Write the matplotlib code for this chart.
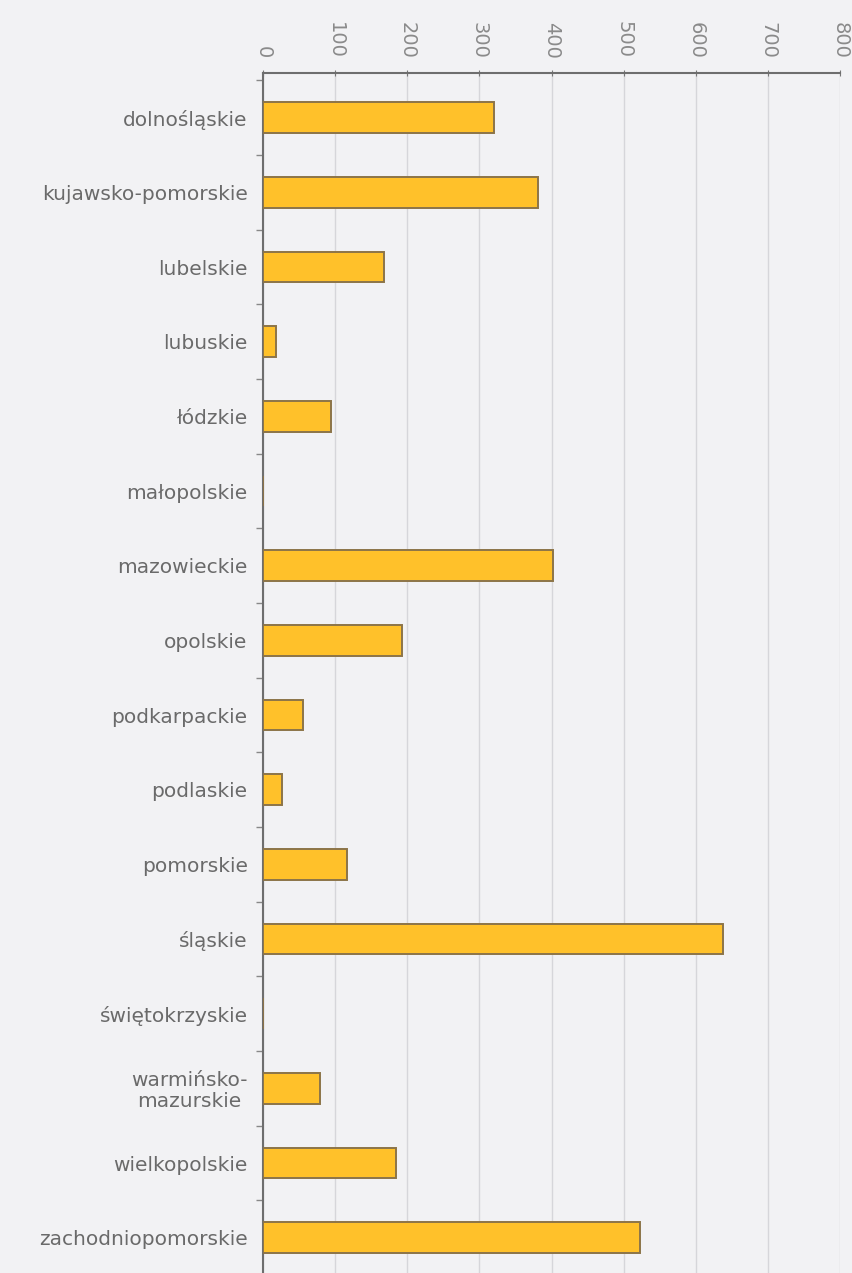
import matplotlib.pyplot as plt
from matplotlib.ticker import MultipleLocator

# województwa and values
regions = ['dolnośląskie', 'kujawsko-pomorskie', 'lubelskie', 'lubuskie',
           'łódzkie', 'małopolskie', 'mazowieckie', 'opolskie',
           'podkarpackie', 'podlaskie', 'pomorskie', 'śląskie',
           'świętokrzyskie', 'warmińsko-\nmazurskie', 'wielkopolskie',
           'zachodniopomorskie']
values = [320, 381, 168, 18, 94, 0, 402, 193, 55, 26, 117, 638, 0, 79, 184, 523]
x_ticks = [0, 100, 200, 300, 400, 500, 600, 700, 800]

bg = '#f2f2f4'
fig = plt.figure(figsize=(8.53, 12.73), dpi=100, facecolor=bg)
# axes runs slightly past the bottom edge, like the cropped original
ax = fig.add_axes([263 / 853, 1 - 1275 / 1273, 577 / 853, (1275 - 73) / 1273])
ax.set_facecolor(bg)

ypos = list(range(len(regions)))
ax.barh(ypos, values, height=0.41, color='#ffc12a', edgecolor='#8c7448',
        linewidth=1.4, zorder=3)

ax.set_xlim(0, 800)
ax.set_ylim(15.5, -0.6)
ax.set_xticks(x_ticks)
ax.xaxis.tick_top()
ax.tick_params(axis='x', labeltop=True, labelbottom=False, top=True, bottom=False,
               direction='inout', length=5, color='#777777', labelsize=14,
               labelcolor='#8a8a8a', pad=8)
for lab in ax.get_xticklabels():
    lab.set_rotation(270)

ax.set_yticks(ypos)
ax.set_yticklabels(regions, fontsize=14.5, color='#6a6a6a', ha='right',
                   multialignment='center', linespacing=1.1)
ax.tick_params(axis='y', which='major', length=0, pad=11)
ax.yaxis.set_minor_locator(MultipleLocator(1, offset=0.5))
ax.tick_params(axis='y', which='minor', length=5, color='#888888', width=1)

ax.grid(axis='x', color='#d6d6da', linewidth=1, zorder=0)
for side in ['right', 'bottom']:
    ax.spines[side].set_visible(False)
for side in ['left', 'top']:
    ax.spines[side].set_color('#6e6e6e')
    ax.spines[side].set_linewidth(1.5)

plt.savefig('out.png', dpi=100, facecolor=bg)
